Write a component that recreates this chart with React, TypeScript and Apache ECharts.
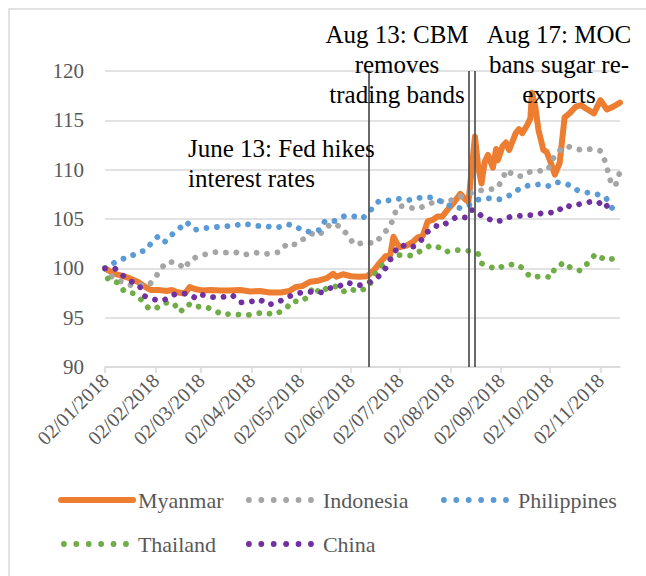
import React, { useEffect, useRef } from "react";
import * as echarts from "echarts";

const FONT = "Liberation Serif";

const TICK_DATES = [
  "2018-01-02", "2018-02-02", "2018-03-02", "2018-04-02", "2018-05-02", "2018-06-02",
  "2018-07-02", "2018-08-02", "2018-09-02", "2018-10-02", "2018-11-02",
];
const X_MIN = "2018-01-02";
const X_MAX = "2018-11-14";
const Y_MIN = 90;
const Y_MAX = 120;
const Y_STEP = 5;

const EVENT_DATES = ["2018-06-13", "2018-08-13", "2018-08-17"];

const SERIES_NAMES = ["Myanmar", "Indonesia", "Philippines", "Thailand", "China"];
const SERIES_COLORS = ["#ED7D31", "#A5A5A5", "#5B9BD5", "#70AD47", "#7030A0"];

const myanmar: [string, number][] = [
  ["2018-01-02", 100.0], ["2018-01-07", 99.5], ["2018-01-11", 99.3], ["2018-01-17", 99.0],
  ["2018-01-22", 98.65], ["2018-01-26", 98.2], ["2018-01-30", 97.8], ["2018-02-04", 97.8],
  ["2018-02-09", 97.7], ["2018-02-12", 97.8], ["2018-02-16", 97.55], ["2018-02-20", 97.45],
  ["2018-02-23", 98.1], ["2018-02-26", 97.9], ["2018-03-03", 97.75], ["2018-03-08", 97.8],
  ["2018-03-14", 97.75], ["2018-03-19", 97.75], ["2018-03-26", 97.8], ["2018-04-01", 97.65],
  ["2018-04-07", 97.7], ["2018-04-13", 97.55], ["2018-04-20", 97.55], ["2018-04-25", 97.7],
  ["2018-04-29", 98.1], ["2018-05-03", 98.2], ["2018-05-08", 98.65], ["2018-05-13", 98.75],
  ["2018-05-18", 99.0], ["2018-05-22", 99.45], ["2018-05-24", 99.15], ["2018-05-28", 99.4],
  ["2018-06-02", 99.2], ["2018-06-07", 99.15], ["2018-06-12", 99.2], ["2018-06-16", 99.8],
  ["2018-06-20", 100.65], ["2018-06-23", 101.2], ["2018-06-26", 101.35], ["2018-06-28", 103.2],
  ["2018-06-30", 102.55], ["2018-07-02", 102.15], ["2018-07-06", 102.3], ["2018-07-10", 102.7],
  ["2018-07-13", 103.15], ["2018-07-16", 103.3], ["2018-07-19", 104.75], ["2018-07-22", 104.9],
  ["2018-07-25", 105.25], ["2018-07-28", 105.25], ["2018-07-31", 105.9], ["2018-08-04", 106.65],
  ["2018-08-08", 107.55], ["2018-08-11", 107.0], ["2018-08-13", 106.75], ["2018-08-14", 108.3],
  ["2018-08-17", 113.35], ["2018-08-19", 110.3], ["2018-08-21", 108.6], ["2018-08-23", 110.8],
  ["2018-08-25", 111.5], ["2018-08-28", 110.2], ["2018-08-30", 112.1], ["2018-08-31", 110.95],
  ["2018-09-03", 112.4], ["2018-09-05", 112.75], ["2018-09-07", 112.0], ["2018-09-11", 113.7],
  ["2018-09-13", 114.1], ["2018-09-15", 113.7], ["2018-09-18", 114.5], ["2018-09-20", 115.2],
  ["2018-09-21", 117.8], ["2018-09-23", 116.4], ["2018-09-25", 114.0], ["2018-09-28", 112.0],
  ["2018-09-30", 111.8], ["2018-10-02", 110.95], ["2018-10-05", 109.5], ["2018-10-08", 110.7],
  ["2018-10-11", 115.3], ["2018-10-14", 115.7], ["2018-10-18", 116.4], ["2018-10-21", 116.55],
  ["2018-10-24", 116.2], ["2018-10-29", 115.7], ["2018-11-02", 117.05], ["2018-11-06", 116.1],
  ["2018-11-10", 116.4], ["2018-11-14", 116.8],
];

const indonesia: [string, number][] = [
  ["2018-01-02", 100.0], ["2018-01-07", 99.0], ["2018-01-17", 98.3], ["2018-01-29", 98.3],
  ["2018-02-02", 99.1], ["2018-02-06", 100.1], ["2018-02-09", 100.65], ["2018-02-15", 100.6],
  ["2018-02-20", 99.95], ["2018-02-23", 100.85], ["2018-02-28", 101.2], ["2018-03-04", 101.4],
  ["2018-03-11", 101.65], ["2018-03-17", 101.6], ["2018-03-23", 101.65], ["2018-03-28", 101.35],
  ["2018-04-04", 101.6], ["2018-04-11", 101.45], ["2018-04-19", 101.65], ["2018-04-24", 102.55],
  ["2018-04-29", 102.4], ["2018-05-04", 103.0], ["2018-05-09", 103.5], ["2018-05-13", 103.3],
  ["2018-05-17", 104.0], ["2018-05-21", 104.55], ["2018-05-27", 104.2], ["2018-05-31", 103.3],
  ["2018-06-04", 102.4], ["2018-06-10", 102.6], ["2018-06-17", 102.55], ["2018-06-21", 103.4],
  ["2018-06-25", 104.05], ["2018-06-28", 105.0], ["2018-06-30", 106.2], ["2018-07-03", 106.3],
  ["2018-07-06", 106.25], ["2018-07-12", 106.0], ["2018-07-20", 106.5], ["2018-07-23", 106.75],
  ["2018-07-26", 106.9], ["2018-07-29", 106.65], ["2018-08-04", 107.0], ["2018-08-13", 107.55],
  ["2018-08-19", 107.85], ["2018-08-24", 108.0], ["2018-08-30", 108.05], ["2018-09-03", 108.95],
  ["2018-09-05", 109.95], ["2018-09-11", 109.35], ["2018-09-15", 109.35], ["2018-09-20", 109.8],
  ["2018-09-25", 109.85], ["2018-10-01", 110.0], ["2018-10-03", 110.9], ["2018-10-07", 111.85],
  ["2018-10-12", 112.4], ["2018-10-16", 112.2], ["2018-10-21", 112.0], ["2018-10-28", 112.1],
  ["2018-11-02", 111.9], ["2018-11-05", 110.8], ["2018-11-07", 109.55], ["2018-11-09", 108.35],
  ["2018-11-12", 108.6], ["2018-11-14", 109.85],
];

const philippines: [string, number][] = [
  ["2018-01-02", 100.0], ["2018-01-11", 100.9], ["2018-01-17", 101.1], ["2018-01-22", 101.65],
  ["2018-01-27", 101.8], ["2018-01-31", 102.7], ["2018-02-04", 103.3], ["2018-02-08", 102.7],
  ["2018-02-12", 103.4], ["2018-02-17", 104.1], ["2018-02-21", 104.7], ["2018-02-26", 103.9],
  ["2018-03-03", 104.05], ["2018-03-09", 104.15], ["2018-03-16", 104.25], ["2018-03-22", 104.3],
  ["2018-03-28", 104.55], ["2018-04-04", 104.3], ["2018-04-10", 104.3], ["2018-04-17", 104.1],
  ["2018-04-24", 104.45], ["2018-04-29", 104.3], ["2018-05-03", 103.8], ["2018-05-08", 103.7],
  ["2018-05-14", 103.9], ["2018-05-17", 104.8], ["2018-05-23", 104.8], ["2018-05-29", 105.3],
  ["2018-06-03", 105.3], ["2018-06-09", 105.05], ["2018-06-14", 105.9], ["2018-06-19", 106.8],
  ["2018-06-24", 106.85], ["2018-07-01", 107.05], ["2018-07-07", 106.9], ["2018-07-14", 107.15],
  ["2018-07-21", 107.2], ["2018-07-27", 106.8], ["2018-08-02", 106.3], ["2018-08-08", 106.1],
  ["2018-08-14", 106.45], ["2018-08-19", 106.95], ["2018-08-25", 107.1], ["2018-09-01", 107.0],
  ["2018-09-08", 107.45], ["2018-09-14", 108.15], ["2018-09-19", 108.4], ["2018-09-25", 108.5],
  ["2018-10-01", 108.35], ["2018-10-06", 108.75], ["2018-10-13", 108.5], ["2018-10-19", 107.9],
  ["2018-10-24", 107.7], ["2018-10-29", 107.6], ["2018-11-05", 107.25], ["2018-11-09", 106.15],
  ["2018-11-12", 105.7],
];

const thailand: [string, number][] = [
  ["2018-01-02", 100.0], ["2018-01-04", 98.8], ["2018-01-10", 98.55], ["2018-01-14", 97.6],
  ["2018-01-20", 97.45], ["2018-01-25", 96.7], ["2018-01-29", 95.9], ["2018-02-02", 95.9],
  ["2018-02-07", 96.5], ["2018-02-13", 96.5], ["2018-02-17", 95.55], ["2018-02-22", 96.4],
  ["2018-02-26", 96.0], ["2018-03-02", 96.2], ["2018-03-09", 95.85], ["2018-03-15", 95.3],
  ["2018-03-21", 95.4], ["2018-03-27", 95.25], ["2018-04-02", 95.3], ["2018-04-09", 95.55],
  ["2018-04-16", 95.3], ["2018-04-23", 95.9], ["2018-04-27", 96.7], ["2018-05-02", 96.6],
  ["2018-05-06", 97.05], ["2018-05-10", 98.15], ["2018-05-14", 97.45], ["2018-05-18", 98.0],
  ["2018-05-23", 98.2], ["2018-05-28", 97.6], ["2018-05-31", 97.95], ["2018-06-07", 97.65],
  ["2018-06-13", 98.15], ["2018-06-16", 99.3], ["2018-06-20", 100.15], ["2018-06-25", 100.85],
  ["2018-06-30", 101.35], ["2018-07-05", 101.3], ["2018-07-10", 101.3], ["2018-07-15", 101.8],
  ["2018-07-21", 102.35], ["2018-07-25", 102.2], ["2018-07-30", 101.65], ["2018-08-03", 101.85],
  ["2018-08-08", 101.85], ["2018-08-14", 101.75], ["2018-08-19", 101.45], ["2018-08-21", 100.5],
  ["2018-08-25", 100.25], ["2018-08-30", 99.9], ["2018-09-05", 100.35], ["2018-09-12", 100.4],
  ["2018-09-16", 99.9], ["2018-09-20", 99.1], ["2018-09-27", 99.2], ["2018-10-03", 99.1],
  ["2018-10-05", 100.05], ["2018-10-11", 100.6], ["2018-10-15", 100.0], ["2018-10-21", 99.75],
  ["2018-10-25", 100.5], ["2018-10-30", 101.45], ["2018-11-02", 101.1], ["2018-11-07", 100.8],
  ["2018-11-11", 101.1],
];

const china: [string, number][] = [
  ["2018-01-02", 100.0], ["2018-01-08", 100.0], ["2018-01-12", 99.4], ["2018-01-17", 98.75],
  ["2018-01-23", 98.3], ["2018-01-26", 97.2], ["2018-01-31", 96.9], ["2018-02-05", 96.7],
  ["2018-02-09", 96.9], ["2018-02-14", 97.4], ["2018-02-22", 97.45], ["2018-02-27", 96.95],
  ["2018-03-02", 97.35], ["2018-03-07", 97.1], ["2018-03-14", 97.05], ["2018-03-21", 97.3],
  ["2018-03-26", 96.55], ["2018-04-01", 96.6], ["2018-04-07", 96.85], ["2018-04-12", 96.3],
  ["2018-04-17", 96.5], ["2018-04-23", 96.95], ["2018-04-28", 97.4], ["2018-05-03", 97.55],
  ["2018-05-10", 97.65], ["2018-05-15", 97.55], ["2018-05-20", 98.0], ["2018-05-25", 98.1],
  ["2018-05-30", 98.6], ["2018-06-06", 98.25], ["2018-06-11", 98.4], ["2018-06-17", 98.9],
  ["2018-06-21", 99.5], ["2018-06-25", 100.45], ["2018-06-28", 101.6], ["2018-07-03", 102.4],
  ["2018-07-07", 102.05], ["2018-07-11", 102.25], ["2018-07-15", 102.85], ["2018-07-19", 103.7],
  ["2018-07-24", 104.3], ["2018-07-27", 104.2], ["2018-08-01", 104.75], ["2018-08-06", 105.25],
  ["2018-08-11", 105.15], ["2018-08-15", 105.9], ["2018-08-17", 105.9], ["2018-08-22", 105.15],
  ["2018-08-24", 105.1], ["2018-08-30", 104.7], ["2018-09-03", 104.9], ["2018-09-08", 105.25],
  ["2018-09-13", 105.3], ["2018-09-17", 105.4], ["2018-09-23", 105.4], ["2018-09-28", 105.65],
  ["2018-10-06", 105.65], ["2018-10-11", 106.4], ["2018-10-15", 106.25], ["2018-10-20", 106.5],
  ["2018-10-27", 106.75], ["2018-11-01", 106.7], ["2018-11-04", 106.1], ["2018-11-09", 106.7],
];

const SERIES_DATA = [myanmar, indonesia, philippines, thailand, china];

const ANNOTATIONS = [
  { text: "Aug 13: CBM\nremoves\ntrading bands", x: 397, y: 64, align: "center" },
  { text: "Aug 17: MOC\nbans sugar re-\nexports", x: 559, y: 64, align: "center" },
  { text: "June 13: Fed hikes\ninterest rates", x: 188, y: 163, align: "left" },
];

const LEGEND_POS = [
  { left: 58, top: 487 },
  { left: 243, top: 487 },
  { left: 438, top: 487 },
  { left: 58, top: 531 },
  { left: 243, top: 531 },
];

function toTime(s: string): number {
  const [y, m, d] = s.split("-").map(Number);
  return new Date(y, m - 1, d).getTime();
}

function pad(n: number): string {
  return n < 10 ? "0" + n : String(n);
}

export default function App() {
  const ref = useRef<HTMLDivElement>(null);

  useEffect(() => {
    if (!ref.current) return;
    const chart = echarts.init(ref.current, undefined, { renderer: "svg" });
    const tickTimes = TICK_DATES.map(toTime);

    const series: any[] = SERIES_NAMES.map((name, i) => {
      const solid = i === 0;
      const s: any = {
        name,
        type: "line",
        data: SERIES_DATA[i].map(([d, v]) => [toTime(d), v]),
        symbol: "none",
        showSymbol: false,
        smooth: false,
        silent: true,
        z: 2 + i,
        lineStyle: solid
          ? { color: SERIES_COLORS[i], width: 6, cap: "round", join: "round" }
          : { color: SERIES_COLORS[i], width: 5.8, type: [0.01, 10.5], cap: "round", join: "round" },
        itemStyle: { color: SERIES_COLORS[i] },
      };
      if (i === 0) {
        s.markLine = {
          symbol: "none",
          silent: true,
          label: { show: false },
          lineStyle: { color: "#595959", width: 1.8, type: "solid" },
          data: EVENT_DATES.map((d) => ({ xAxis: toTime(d) })),
          z: 10,
        };
      }
      return s;
    });

    const legends = SERIES_NAMES.map((name, i) => ({
      data: [name],
      left: LEGEND_POS[i].left,
      top: LEGEND_POS[i].top,
      padding: 0,
      itemGap: 0,
      itemWidth: 72,
      itemHeight: 14,
      selectedMode: false,
      itemStyle: { opacity: 0, borderWidth: 0 },
      textStyle: { fontFamily: FONT, fontSize: 22, color: "#595959", lineHeight: 26 },
      lineStyle:
        i === 0
          ? { width: 6, cap: "round" }
          : { width: 5.8, type: [0.01, 12.4], dashOffset: -3, cap: "round" },
    }));

    const graphics: any[] = [
      {
        type: "rect",
        shape: { x: 9, y: 9, width: 800, height: 800 },
        style: { fill: "none", stroke: "#d9d9d9", lineWidth: 1.5 },
        silent: true,
        z: -10,
      },
      ...ANNOTATIONS.map((a) => ({
        type: "text",
        x: a.x,
        y: a.y,
        silent: true,
        z: 100,
        style: {
          text: a.text,
          fontFamily: FONT,
          fontSize: 25,
          lineHeight: 30,
          fill: "#000000",
          align: a.align,
          verticalAlign: "middle",
        },
      })),
    ];

    chart.setOption({
      animation: false,
      backgroundColor: "#ffffff",
      textStyle: { fontFamily: FONT },
      grid: { left: 105, right: 26, top: 71, bottom: 209, containLabel: false },
      legend: legends,
      xAxis: {
        type: "value",
        min: toTime(X_MIN),
        max: toTime(X_MAX),
        axisLine: { show: true, lineStyle: { color: "#d9d9d9", width: 1.5 } },
        axisTick: {
          show: true,
          customValues: tickTimes,
          length: 6,
          lineStyle: { color: "#d9d9d9", width: 1.5 },
        },
        axisLabel: {
          customValues: tickTimes,
          rotate: 45,
          margin: 10,
          fontFamily: FONT,
          fontSize: 20,
          color: "#595959",
          hideOverlap: false,
          formatter: (val: number) => {
            const d = new Date(val);
            return pad(d.getDate()) + "/" + pad(d.getMonth() + 1) + "/" + d.getFullYear();
          },
        },
        splitLine: { show: false },
      },
      yAxis: {
        type: "value",
        min: Y_MIN,
        max: Y_MAX,
        interval: Y_STEP,
        axisLine: { show: false },
        axisTick: { show: false },
        axisLabel: {
          margin: 21,
          fontFamily: FONT,
          fontSize: 21,
          color: "#595959",
        },
        splitLine: { show: true, lineStyle: { color: "#d9d9d9", width: 1.5 } },
      },
      series,
      graphic: graphics,
    });

    return () => chart.dispose();
  }, []);

  return (
    <div
      ref={ref}
      style={{ position: "fixed", left: 0, top: 0, width: 646, height: 576, background: "#fff" }}
    />
  );
}
